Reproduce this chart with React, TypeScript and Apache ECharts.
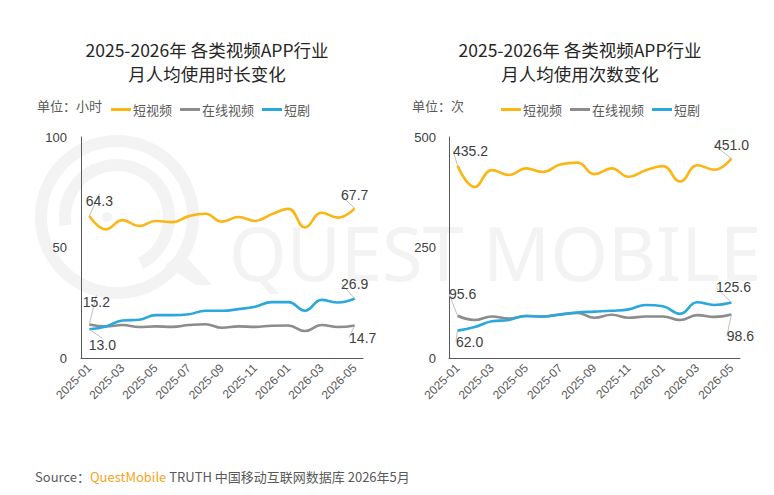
import React, { useEffect, useRef } from "react";
import * as echarts from "echarts";

const months = [
  "2025-01", "2025-02", "2025-03", "2025-04", "2025-05", "2025-06", "2025-07", "2025-08", "2025-09",
  "2025-10", "2025-11", "2025-12", "2026-01", "2026-02", "2026-03", "2026-04", "2026-05",
];

// 月人均使用时长（小时）
const hoursShortVideo = [64.3, 58.2, 62.4, 59.7, 62.0, 61.5, 64.2, 65.3, 61.7, 63.8, 62.0, 65.1, 67.5, 59.1, 65.7, 63.5, 67.7];
const hoursOnlineVideo = [15.2, 14.3, 14.9, 14.0, 14.3, 14.1, 14.9, 15.3, 13.7, 14.3, 14.1, 14.6, 14.7, 12.2, 14.9, 14.0, 14.7];
const hoursShortDrama = [13.0, 14.3, 17.0, 17.3, 19.4, 19.4, 19.8, 21.4, 21.4, 22.1, 23.2, 25.3, 25.3, 21.4, 26.3, 25.1, 26.9];

// 月人均使用次数（次）
const timesShortVideo = [435.2, 387, 425, 414, 429, 421, 438, 442, 416, 429, 410, 425, 434, 399, 436, 426, 451.0];
const timesOnlineVideo = [95.6, 86, 94, 89, 95, 94, 99, 102, 91, 98, 91, 94, 94, 86, 97, 93, 98.6];
const timesShortDrama = [62.0, 70, 83, 86, 95, 94, 98, 103, 105, 107, 110, 120, 117, 100, 126, 120, 125.6];

const seriesNames = ["短视频", "在线视频", "短剧"];
const colors = ["#FBB515", "#8C8C8C", "#2AA8DE"];

const FONT_CN = "'Noto Sans CJK SC', 'Noto Sans', sans-serif";
const FONT_NUM = "'Liberation Sans', Arial, sans-serif";
const WM = "#F3F3F3";

export default function App() {
  const ref = useRef<HTMLDivElement>(null);

  useEffect(() => {
    if (!ref.current) return;
    const chart = echarts.init(ref.current, null, { renderer: "svg" });
    const last = months.length - 1;

    const mkSeries = (
      name: string,
      data: number[],
      color: string,
      idx: number,
      offs: Record<number, [number, number]>
    ) => ({
      name,
      type: "line",
      xAxisIndex: idx,
      yAxisIndex: idx,
      data: data.map((v, i) => ({
        value: v,
        label: {
          show: i === 0 || i === last,
          position: "inside",
          formatter: () => v.toFixed(1),
          color: "#404040",
          fontSize: 14,
          fontFamily: FONT_NUM,
        },
      })),
      smooth: 0.45,
      symbol: "circle",
      symbolSize: 0,
      showSymbol: true,
      showAllSymbol: true,
      lineStyle: { color, width: 2.6 },
      itemStyle: { color },
      labelLine: { show: true, lineStyle: { color: "#BFBFBF", width: 1 } },
      labelLayout: (p: any) => {
        const o = offs[p.dataIndex];
        return o ? { dx: o[0], dy: o[1] } : {};
      },
      z: 3,
    });

    const axisLabelX = {
      interval: 1,
      rotate: 45,
      fontSize: 12,
      color: "#595959",
      fontFamily: FONT_NUM,
      margin: 8,
    };

    const legendBase = {
      data: seriesNames,
      icon: "rect",
      itemWidth: 20,
      itemHeight: 3,
      itemGap: 8,
      top: 98,
      textStyle: { fontSize: 13, color: "#595959", fontFamily: FONT_CN, padding: [0, 0, 0, -3] },
    };

    const titleStyle = { fontSize: 17.5, fontWeight: "normal", color: "#262626", fontFamily: FONT_CN, lineHeight: 24 };

    const option: any = {
      animation: false,
      color: colors,
      title: [
        {
          text: "2025-2026年 各类视频APP行业\n月人均使用时长变化",
          left: 202,
          top: 32,
          textAlign: "center",
          textStyle: titleStyle,
        },
        {
          text: "2025-2026年 各类视频APP行业\n月人均使用次数变化",
          left: 575,
          top: 32,
          textAlign: "center",
          textStyle: titleStyle,
        },
      ],
      legend: [
        { ...legendBase, left: 106 },
        { ...legendBase, left: 496 },
      ],
      grid: [
        { left: 81, top: 137, width: 282, height: 221, containLabel: false },
        { left: 449, top: 137, width: 291, height: 221, containLabel: false },
      ],
      xAxis: [0, 1].map((gi) => ({
        type: "category",
        gridIndex: gi,
        data: months,
        boundaryGap: true,
        axisLine: { lineStyle: { color: "#595959", width: 1 } },
        axisTick: { show: false },
        axisLabel: axisLabelX,
        splitLine: { show: false },
      })),
      yAxis: [
        {
          type: "value",
          gridIndex: 0,
          min: 0,
          max: 100,
          interval: 50,
          axisLine: { show: true, lineStyle: { color: "#595959", width: 1 } },
          axisTick: { show: false },
          splitLine: { show: false },
          axisLabel: { fontSize: 13, color: "#404040", fontFamily: FONT_NUM, margin: 14 },
        },
        {
          type: "value",
          gridIndex: 1,
          min: 0,
          max: 500,
          interval: 250,
          axisLine: { show: true, lineStyle: { color: "#595959", width: 1 } },
          axisTick: { show: false },
          splitLine: { show: false },
          axisLabel: { fontSize: 13, color: "#404040", fontFamily: FONT_NUM, margin: 13 },
        },
      ],
      series: [
        mkSeries(seriesNames[0], hoursShortVideo, colors[0], 0, { 0: [10, -15], 16: [0, -13] }),
        mkSeries(seriesNames[1], hoursOnlineVideo, colors[1], 0, { 0: [7, -22], 16: [8, 12] }),
        mkSeries(seriesNames[2], hoursShortDrama, colors[2], 0, { 0: [13, 16], 16: [0, -15] }),
        mkSeries(seriesNames[0], timesShortVideo, colors[0], 1, { 0: [13, -15], 16: [0, -14] }),
        mkSeries(seriesNames[1], timesOnlineVideo, colors[1], 1, { 0: [5, -22], 16: [9, 22] }),
        mkSeries(seriesNames[2], timesShortDrama, colors[2], 1, { 0: [12, 11], 16: [2, -15] }),
      ],
      graphic: [
        // watermark logo
        {
          type: "ring",
          shape: { cx: 117, cy: 217, r: 82, r0: 70 },
          style: { fill: WM },
          z: -10,
          silent: true,
        },
        {
          type: "arc",
          shape: { cx: 117, cy: 217, r: 52, startAngle: Math.PI * 0.95, endAngle: Math.PI * 2.35 },
          style: { stroke: WM, lineWidth: 12, fill: "none" },
          z: -10,
          silent: true,
        },
        {
          type: "circle",
          shape: { cx: 107, cy: 217, r: 5 },
          style: { fill: WM },
          z: -10,
          silent: true,
        },
        {
          type: "polygon",
          shape: { points: [[165, 265], [182, 252], [212, 285], [196, 285]] },
          style: { fill: WM },
          z: -10,
          silent: true,
        },
        {
          type: "text",
          left: 229,
          top: 215,
          style: {
            text: "QUEST MOBILE",
            fontSize: 74,
            lineHeight: 52,
            fontFamily: "'Noto Sans', sans-serif",
            fill: WM,
          },
          z: -10,
          silent: true,
        },
        {
          type: "text",
          left: 37,
          top: 99,
          style: { text: "单位：小时", fontSize: 13, fill: "#595959", fontFamily: FONT_CN },
        },
        {
          type: "text",
          left: 412,
          top: 99,
          style: { text: "单位：次", fontSize: 13, fill: "#595959", fontFamily: FONT_CN },
        },
        {
          type: "text",
          left: 35,
          top: 470,
          style: {
            text: "{a|Source：}{b|QuestMobile}{a| TRUTH 中国移动互联网数据库 2026年5月}",
            rich: {
              a: { fontSize: 13, fill: "#595959", fontFamily: FONT_CN },
              b: { fontSize: 13, fill: "#F7A21B", fontFamily: FONT_CN },
            },
          },
        },
      ],
    };

    chart.setOption(option);
    return () => chart.dispose();
  }, []);

  return (
    <div
      ref={ref}
      style={{ position: "absolute", left: 0, top: 0, width: 774, height: 495, background: "#fff" }}
    />
  );
}
